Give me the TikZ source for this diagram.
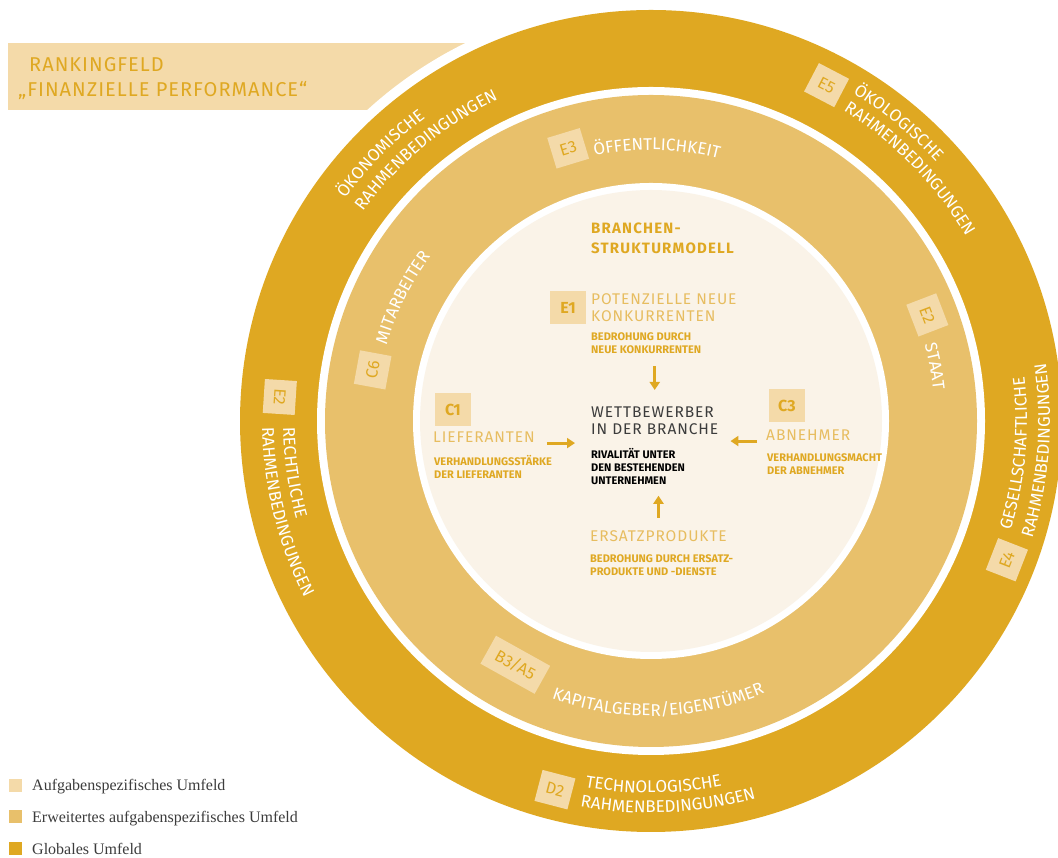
\documentclass[tikz,border=0pt]{standalone}
\usepackage{fontspec}
\setmainfont{Fira Sans}
\newfontfamily\legendfont{Liberation Serif}
\newfontfamily\spacedfont{Fira Sans}[LetterSpace=6]
\usetikzlibrary{arrows.meta,decorations.text}

\definecolor{globalgold}{RGB}{223,168,34}
\definecolor{widergold}{RGB}{232,192,107}
\definecolor{taskcream}{RGB}{250,243,232}
\definecolor{tagfill}{RGB}{244,218,169}
\definecolor{lightgold}{RGB}{231,189,96}
\definecolor{darktext}{RGB}{60,60,60}

\newcommand{\ringfont}{\fontsize{17}{17}\selectfont}

\tikzset{
  ringtext/.style={decorate, decoration={text along path, text color=white, text={|\ringfont|#1}}},
  tagbox/.style={fill=tagfill, text=globalgold, inner sep=0pt, minimum width=34pt, minimum height=32pt, font=\fontsize{16.5}{16.5}\selectfont},
  innertag/.style={fill=tagfill, text=globalgold, inner sep=0pt, minimum width=36pt, minimum height=33pt, font=\bfseries\fontsize{16}{16}\selectfont},
  force/.style={draw=globalgold, line width=3pt, -{Triangle[width=10pt,length=8pt]}},
  bigtext/.style={anchor=north west, inner sep=0pt, align=left, text=lightgold, font=\spacedfont\fontsize{15.5}{17}\selectfont},
  smalltext/.style={anchor=north west, inner sep=0pt, align=left, text=globalgold, font=\bfseries\fontsize{11}{13}\selectfont},
  banner/.style={anchor=base west, inner sep=0pt, text=globalgold, font=\fontsize{20}{20}\selectfont\addfontfeatures{LetterSpace=5}},
  legendbox/.style={fill=#1, minimum size=13pt, inner sep=0pt},
  legendtext/.style={anchor=base west, inner sep=0pt, text=darktext, font=\legendfont\fontsize{16}{16}\selectfont},
}

\begin{document}
\begin{tikzpicture}[x=1pt,y=1pt]
    \clip (0,0) rectangle (1058,858);
    \fill[white] (0,0) rectangle (1058,858);
    \coordinate (O) at (651,437);

    % Banner - ranking field, partly hidden by the rings
    \fill[tagfill] (8,748) rectangle (520,815);
    \node[banner] (rankA) at (29,786) {RANKINGFELD};
    \node[banner] (rankB) at (18,761) {„FINANZIELLE PERFORMANCE“};

    % Rings - global, wider task, task environment
    \fill[white] (O) circle[radius=421pt];
    \fill[globalgold] (O) circle[radius=411pt];
    \fill[white] (O) circle[radius=334pt];
    \fill[widergold] (O) circle[radius=326pt];
    \fill[white] (O) circle[radius=238pt];
    \fill[taskcream] (O) circle[radius=231pt];

    % Outer ring - labels
    \path[ringtext={ÖKONOMISCHE}] ([shift={(144:378pt)}]O) arc[start angle=144, end angle=95, radius=378pt];
    \path[ringtext={RAHMENBEDINGUNGEN}] ([shift={(144:356pt)}]O) arc[start angle=144, end angle=90, radius=356pt];
    \path[ringtext={ÖKOLOGISCHE}] ([shift={(58.4:385pt)}]O) arc[start angle=58.4, end angle=15, radius=385pt];
    \path[ringtext={RAHMENBEDINGUNGEN}] ([shift={(58.2:365pt)}]O) arc[start angle=58.2, end angle=5, radius=365pt];
    \path[ringtext={GESELLSCHAFTLICHE}] ([shift={(-17:376pt)}]O) arc[start angle=-17, end angle=35, radius=376pt];
    \path[ringtext={RAHMENBEDINGUNGEN}] ([shift={(-17.1:399pt)}]O) arc[start angle=-17.1, end angle=35, radius=399pt];
    \path[ringtext={TECHNOLOGISCHE}] ([shift={(259.8:372pt)}]O) arc[start angle=259.8, end angle=305, radius=372pt];
    \path[ringtext={RAHMENBEDINGUNGEN}] ([shift={(259.6:392pt)}]O) arc[start angle=259.6, end angle=315, radius=392pt];
    \path[ringtext={RECHTLICHE}] ([shift={(181:368pt)}]O) arc[start angle=181, end angle=220, radius=368pt];
    \path[ringtext={RAHMENBEDINGUNGEN}] ([shift={(180.9:389pt)}]O) arc[start angle=180.9, end angle=235, radius=389pt];
    \node[tagbox, rotate=-27.6] (tagE5) at ([shift={(62.4:379pt)}]O) {E5};
    \node[tagbox, rotate=68.7] (tagE4) at ([shift={(-21.3:382pt)}]O) {E4};
    \node[tagbox, rotate=-14.6] (tagD2) at ([shift={(255.4:381pt)}]O) {D2};
    \node[tagbox, rotate=-93.7] (tagE2l) at ([shift={(176.3:372pt)}]O) {E2};

    % Middle ring - labels
    \path[ringtext={ÖFFENTLICHKEIT}] ([shift={(102:271pt)}]O) arc[start angle=102, end angle=45, radius=271pt];
    \path[ringtext={STAAT}] ([shift={(15.6:284pt)}]O) arc[start angle=15.6, end angle=-25, radius=284pt];
    \path[ringtext={MITARBEITER}] ([shift={(164:275pt)}]O) arc[start angle=164, end angle=115, radius=275pt];
    \path[ringtext={KAPITALGEBER/EIGENTÜMER}] ([shift={(250.3:295pt)}]O) arc[start angle=250.3, end angle=315, radius=295pt];
    \node[tagbox, rotate=16.9] (tagE3) at ([shift={(106.9:285pt)}]O) {E3};
    \node[tagbox, rotate=-69] (tagE2r) at ([shift={(21:296pt)}]O) {E2};
    \node[tagbox, rotate=79.6] (tagC6) at ([shift={(169.6:283pt)}]O) {C6};
    \node[tagbox, rotate=-29.1, minimum width=62pt] (tagB3) at ([shift={(240.9:279pt)}]O) {B3/A5};

    % Inner circle - industry structure model
    \node[smalltext, font=\bfseries\fontsize{15}{19.5}\selectfont\addfontfeatures{LetterSpace=8}] (model) at (591,635) {BRANCHEN-\\STRUKTURMODELL};
    \node[innertag] (tagE1) at (568,550.5) {E1};
    \node[bigtext] (newcomers) at (591,565) {POTENZIELLE NEUE\\KONKURRENTEN};
    \node[smalltext] (threatnew) at (591,525) {BEDROHUNG DURCH\\NEUE KONKURRENTEN};
    \node[innertag] (tagC1) at (453,448.5) {C1};
    \node[bigtext] (suppliers) at (433,426) {LIEFERANTEN};
    \node[smalltext] (supplierpower) at (434,403) {VERHANDLUNGSSTÄRKE\\DER LIEFERANTEN};
    \node[bigtext, text=darktext] (rivals) at (591,451) {WETTBEWERBER\\IN DER BRANCHE};
    \node[smalltext, text=black] (rivalry) at (591,410) {RIVALITÄT UNTER\\DEN BESTEHENDEN\\UNTERNEHMEN};
    \node[innertag] (tagC3) at (787,452.5) {C3};
    \node[bigtext] (buyers) at (766,428) {ABNEHMER};
    \node[smalltext] (buyerpower) at (767,404) {VERHANDLUNGSMACHT\\DER ABNEHMER};
    \node[bigtext] (substitutes) at (590,328) {ERSATZPRODUKTE};
    \node[smalltext] (threatsub) at (590,304) {BEDROHUNG DURCH ERSATZ-\\PRODUKTE UND -DIENSTE};

    % Forces - arrows towards the rivals
    \draw[force, shorten <=12pt, shorten >=17pt] (rivals.north |- threatnew.south) -- (rivals.north);
    \draw[force, shorten <=12pt, shorten >=16pt] (suppliers.south east) -- (suppliers.south east -| rivals.west);
    \draw[force, shorten <=9pt, shorten >=12pt] (buyers.south west) -- (buyers.south west -| rivals.east);
    \draw[force, shorten <=12pt, shorten >=11pt] (substitutes.north) -- (substitutes.north |- rivalry.south);

    % Legend
    \node[legendbox=tagfill] (keyA) at (15.5,72.5) {};
    \node[legendtext] (keyAtext) at (32,67.3) {Aufgabenspezifisches Umfeld};
    \node[legendbox=widergold] (keyB) at (15.5,41) {};
    \node[legendtext] (keyBtext) at (32,35.3) {Erweitertes aufgabenspezifisches Umfeld};
    \node[legendbox=globalgold] (keyC) at (15.5,9) {};
    \node[legendtext] (keyCtext) at (32,3.7) {Globales Umfeld};
\end{tikzpicture}
\end{document}
